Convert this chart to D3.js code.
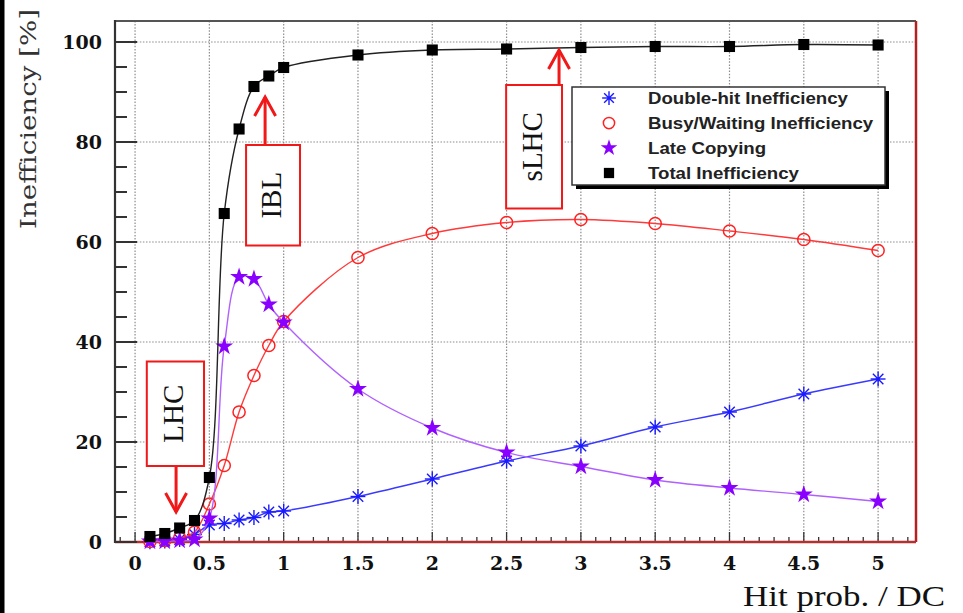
<!DOCTYPE html>
<html><head><meta charset="utf-8">
<script src="https://cdn.jsdelivr.net/npm/d3@7"></script>
<style>html,body{margin:0;padding:0;background:#fff;} svg{display:block;}</style>
</head><body>
<svg id="chart" width="963" height="613"></svg>
<script>
// Hit probability per double column (x) and the four inefficiency curves in percent
const hitProb     = [0.1, 0.2, 0.3, 0.4, 0.5, 0.6, 0.7, 0.8, 0.9, 1.0, 1.5, 2, 2.5, 3, 3.5, 4, 4.5, 5];
const doubleHit   = [0.05, 0.2, 0.5, 1.5, 3.4, 3.7, 4.4, 4.9, 6.0, 6.2, 9.1, 12.6, 16.2, 19.2, 23.0, 26.0, 29.6, 32.6];
const busyWaiting = [0.1, 0.3, 0.8, 2.0, 7.6, 15.3, 26.0, 33.3, 39.3, 44.1, 56.9, 61.7, 63.9, 64.5, 63.7, 62.2, 60.5, 58.3];
const lateCopying = [0.1, 0.1, 0.3, 0.5, 4.7, 39.1, 53.0, 52.6, 47.5, 43.9, 30.6, 22.8, 17.9, 15.1, 12.4, 10.8, 9.5, 8.1];
const totalIneff  = [1.1, 1.7, 2.8, 4.3, 12.9, 65.7, 82.6, 91.1, 93.2, 94.9, 97.4, 98.4, 98.6, 98.9, 99.1, 99.1, 99.5, 99.4];

const seriesNames = ["Double-hit Inefficiency", "Busy/Waiting Inefficiency", "Late Copying", "Total Inefficiency"];

const xTickValues = [0, 0.5, 1, 1.5, 2, 2.5, 3, 3.5, 4, 4.5, 5];
const xTickLabels = ["0", "0.5", "1", "1.5", "2", "2.5", "3", "3.5", "4", "4.5", "5"];
const yTickValues = [0, 20, 40, 60, 80, 100];
const yTickLabels = ["0", "20", "40", "60", "80", "100"];

// Operating points marked on the plot (data units)
const annLabels = ["LHC", "IBL", "sLHC"];
const annBoxX   = [[0.079, 0.464], [0.747, 1.110], [2.497, 2.873]];
const annBoxY   = [[15.2, 36.1], [59.3, 79.4], [66.7, 91.4]];
const annArrowX = [0.276, 0.875, 2.853];
const annTipY   = [6.0, 89.0, 98.4];

const svg = d3.select("#chart");

// dark strip along the left edge
svg.append("rect").attr("x", 0).attr("y", 0).attr("width", 4.5).attr("height", 613).attr("fill", "#000");

const x = d3.scaleLinear().domain([-0.135, 5.255]).range([115, 916]);
const y = d3.scaleLinear().domain([0, 104.2]).range([542, 21]);

const g = svg.append("g");

// grid
const gridStyle = s => s.attr("stroke", "#8c8c8c").attr("stroke-width", 1.2).attr("stroke-dasharray", "1.5 1.6");
g.selectAll("line.gx").data(xTickValues).join("line").attr("class", "gx")
  .attr("x1", d => x(d)).attr("x2", d => x(d)).attr("y1", y.range()[1]).attr("y2", y.range()[0]).call(gridStyle);
g.selectAll("line.gy").data(yTickValues.filter(v => v > 0)).join("line").attr("class", "gy")
  .attr("y1", d => y(d)).attr("y2", d => y(d)).attr("x1", x.range()[0]).attr("x2", x.range()[1]).call(gridStyle);

// frame
g.append("line").attr("x1", 115).attr("x2", 916).attr("y1", 21).attr("y2", 21).attr("stroke", "#555").attr("stroke-width", 2);
g.append("line").attr("x1", 916).attr("x2", 916).attr("y1", 21).attr("y2", 542).attr("stroke", "#b52020").attr("stroke-width", 2.5);

// x axis ticks (inside, pointing up)
const xMinor = d3.range(-1, 53).map(i => i / 10);
g.selectAll("line.xt").data(xMinor).join("line").attr("class", "xt")
  .attr("x1", d => x(d)).attr("x2", d => x(d))
  .attr("y1", y(0)).attr("y2", d => y(0) - (Math.abs(d * 2 - Math.round(d * 2)) < 1e-6 ? 10 : 5))
  .attr("stroke", "#333").attr("stroke-width", 1.3);
g.append("line").attr("x1", 115).attr("x2", 916).attr("y1", y(0)).attr("y2", y(0)).attr("stroke", "#b53030").attr("stroke-width", 2.5);

// y axis ticks (inside, pointing right)
const yMinor = d3.range(0, 21).map(i => i * 5);
g.selectAll("line.yt").data(yMinor).join("line").attr("class", "yt")
  .attr("y1", d => y(d)).attr("y2", d => y(d))
  .attr("x1", 115).attr("x2", d => 115 + (d % 20 === 0 ? 22 : 12))
  .attr("stroke", "#333").attr("stroke-width", 2);
g.append("line").attr("x1", 115).attr("x2", 115).attr("y1", 20).attr("y2", 543).attr("stroke", "#333").attr("stroke-width", 2.2);

// tick labels
g.selectAll("text.xl").data(xTickValues).join("text").attr("class", "xl")
  .attr("x", d => x(d)).attr("y", 570).attr("text-anchor", "middle")
  .attr("font-family", "DejaVu Serif").attr("font-weight", "bold").attr("font-size", 19).attr("fill", "#111")
  .text((d, i) => xTickLabels[i]);
g.selectAll("text.yl").data(yTickValues).join("text").attr("class", "yl")
  .attr("x", 102).attr("y", d => y(d) + 7).attr("text-anchor", "end")
  .attr("font-family", "DejaVu Serif").attr("font-weight", "bold").attr("font-size", 19).attr("fill", "#111")
  .text((d, i) => yTickLabels[i]);

// axis titles
svg.append("text").attr("transform", "translate(36,119) rotate(-90)").attr("text-anchor", "middle")
  .attr("font-family", "DejaVu Serif").attr("font-size", 21.5).attr("fill", "#333")
  .attr("textLength", 220).attr("lengthAdjust", "spacingAndGlyphs")
  .text("Inefficiency [%]");
svg.append("text").attr("x", 743).attr("y", 606)
  .attr("font-family", "Liberation Serif").attr("font-size", 29).attr("fill", "#111")
  .attr("textLength", 202).attr("lengthAdjust", "spacingAndGlyphs")
  .text("Hit prob. / DC");

// series
const seriesValues = [doubleHit, busyWaiting, lateCopying, totalIneff];
const lineColors = ["#3a3aff", "#ff3a3a", "#b060ff", "#222"];
const markColors = ["#1a1aff", "#ff2020", "#8a00ff", "#000"];

function drawMarker(sel, k, size) {
  const c = markColors[k];
  if (k === 0) {
    const r = size * 0.55;
    [0, 45, 90, 135].forEach(a => {
      const t = a * Math.PI / 180;
      sel.append("line").attr("x1", -r * Math.cos(t)).attr("y1", -r * Math.sin(t))
        .attr("x2", r * Math.cos(t)).attr("y2", r * Math.sin(t))
        .attr("stroke", c).attr("stroke-width", 1.4);
    });
    sel.append("circle").attr("r", 1.8).attr("fill", c);
  } else if (k === 1) {
    sel.append("circle").attr("r", size * 0.45).attr("fill", "none").attr("stroke", c).attr("stroke-width", 1.5);
  } else if (k === 2) {
    sel.append("path").attr("d", d3.symbol(d3.symbolStar, size * size * 0.55)()).attr("fill", c);
  } else {
    const s = size * 0.82;
    sel.append("rect").attr("x", -s / 2).attr("y", -s / 2).attr("width", s).attr("height", s).attr("fill", c);
  }
}

const line = d3.line().x(d => x(d[0])).y(d => y(d[1])).curve(d3.curveCatmullRom.alpha(0.5));

seriesValues.forEach((vals, k) => {
  const pts = hitProb.map((h, i) => [h, vals[i]]);
  g.append("path").attr("d", line(pts)).attr("fill", "none")
    .attr("stroke", lineColors[k]).attr("stroke-width", 1.4);
  const mg = g.append("g");
  pts.forEach(p => {
    const m = mg.append("g").attr("transform", `translate(${x(p[0])},${y(p[1])})`);
    drawMarker(m, k, 13.5);
  });
});

// annotations: boxed labels with arrows pointing at the operating point
const red = "#f01818";
annLabels.forEach((lab, i) => {
  const bx0 = x(annBoxX[i][0]), bx1 = x(annBoxX[i][1]);
  const by0 = y(annBoxY[i][1]), by1 = y(annBoxY[i][0]);
  const ax = x(annArrowX[i]), tip = y(annTipY[i]);
  const up = tip < by0;
  const start = up ? by0 : by1;
  svg.append("line").attr("x1", ax).attr("x2", ax).attr("y1", start).attr("y2", tip)
    .attr("stroke", red).attr("stroke-width", 3);
  const hl = up ? 19 : -19;
  svg.append("path").attr("d", `M${ax - 10.5},${tip + hl}L${ax},${tip}L${ax + 10.5},${tip + hl}`)
    .attr("fill", "none").attr("stroke", red).attr("stroke-width", 3).attr("stroke-linejoin", "miter");
  svg.append("rect").attr("x", bx0).attr("y", by0).attr("width", bx1 - bx0).attr("height", by1 - by0)
    .attr("fill", "#fff").attr("stroke", red).attr("stroke-width", 2);
  const cx = (bx0 + bx1) / 2 - 2, cy = (by0 + by1) / 2;
  svg.append("text").attr("transform", `translate(${cx},${cy}) rotate(-90)`)
    .attr("text-anchor", "middle").attr("dy", "0.33em")
    .attr("font-family", "Liberation Serif").attr("font-size", 29).attr("fill", "#111")
    .text(lab);
});

// legend
const lg = svg.append("g");
lg.append("rect").attr("x", 576).attr("y", 91).attr("width", 313).attr("height", 98).attr("fill", "#000");
lg.append("rect").attr("x", 572).attr("y", 87).attr("width", 313).attr("height", 98)
  .attr("fill", "#fff").attr("stroke", "#333").attr("stroke-width", 1.5);
seriesNames.forEach((name, k) => {
  const ry = 98 + k * 25;
  const m = lg.append("g").attr("transform", `translate(609,${ry})`);
  drawMarker(m, k, 12.5);
  const t = lg.append("text").attr("x", 648).attr("y", ry + 6)
    .attr("font-family", "Liberation Sans").attr("font-weight", "bold").attr("font-size", 16.5).attr("fill", "#222")
    .text(name);
  // the legend lettering is set slightly wide
  const w = t.node().getComputedTextLength();
  t.attr("textLength", w * 1.13).attr("lengthAdjust", "spacingAndGlyphs");
});
</script>
</body></html>
